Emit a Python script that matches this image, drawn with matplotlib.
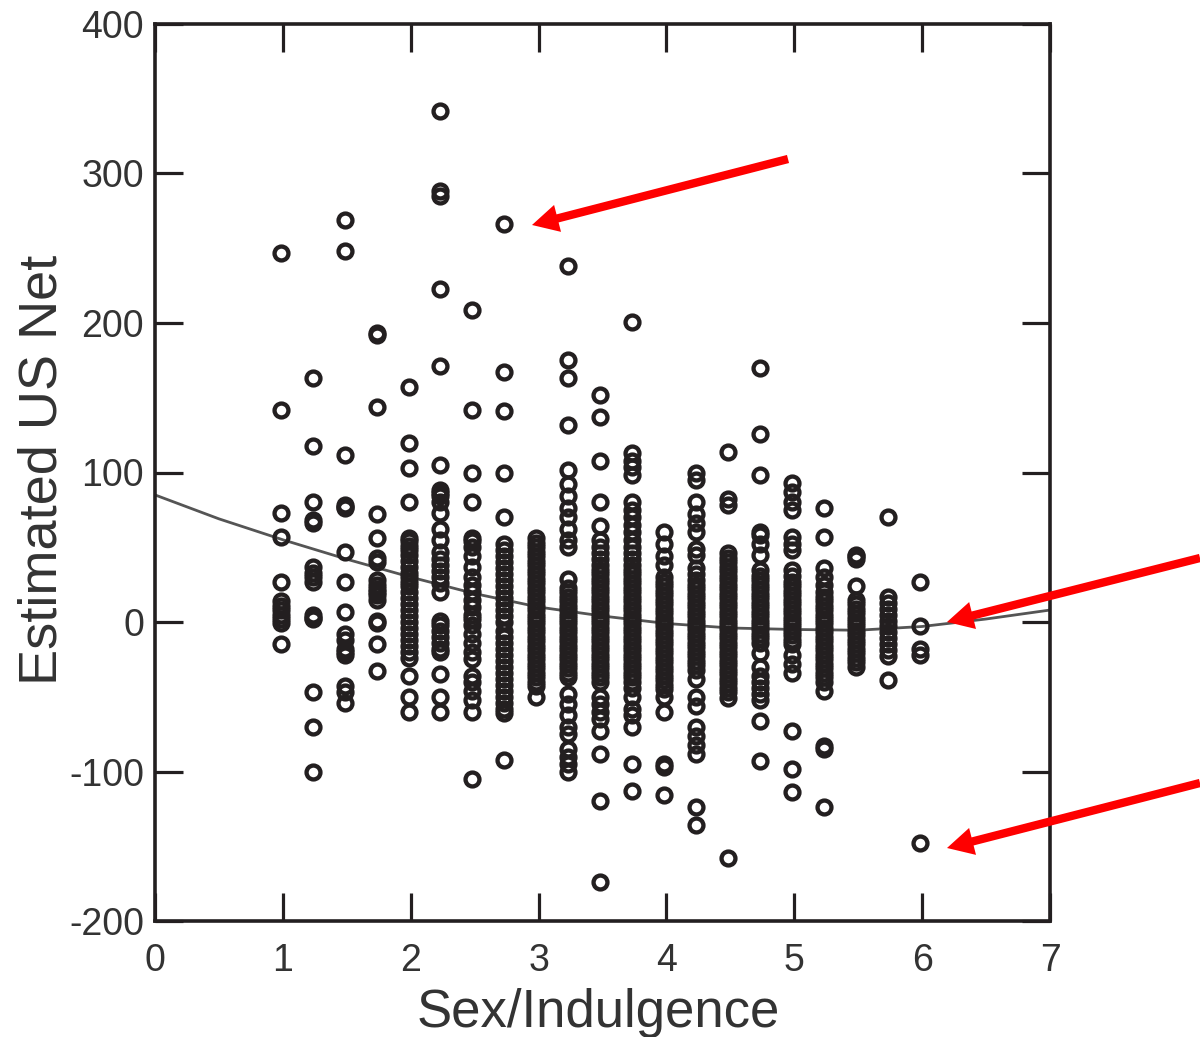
import matplotlib
matplotlib.use("Agg")
import matplotlib.pyplot as plt
from matplotlib.transforms import ScaledTranslation

W, H = 1200, 1037
INK = "#231f20"

col_100 = [247,142,73,57,27,14,11,8,5,2,-1,-15]
col_125 = [163,118,80,68,66,37,33,30,27,5,3,2,-47,-70,-100]
col_150 = [269,248,112,78,77,76,47,27,7,-8,-12,-18,-20,-22,-43,-47,-54]
col_175 = [193,192,144,72,56,43,40,28,25,22,20,18,15,1,-1,-15,-33]
col_200 = [157,120,103,80,56,54,51,48,45,41,37,33,30,27,24,20,16,12,8,4,0,-4,-8,-12,-16,-20,-24,-36,-50,-60]
col_225 = [342,288,285,223,171,105,88,86,84,80,73,62,55,47,42,38,34,30,26,20,1,-2,-6,-10,-14,-18,-20,-35,-50,-60]
col_250 = [209,142,100,80,56,54,50,44,37,30,25,20,15,10,5,2,-2,-8,-14,-20,-25,-36,-40,-46,-52,-60,-105]
col_275 = [266,167,141,100,70,52,48,44,40,36,32,28,24,20,16,12,8,4,0,-6,-10,-14,-18,-22,-26,-30,-34,-38,-42,-46,-50,-54,-58,-61,-92]
col_300 = [56,53,50,47,44,41,38,35,32,29,26,23,20,17,14,11,8,5,2,-1,-4,-7,-10,-13,-16,-19,-22,-25,-28,-31,-34,-37,-40,-43,-50]
col_325 = [238,175,163,132,102,92,84,76,70,62,55,50,29,23,20,17,14,11,8,5,2,-1,-4,-7,-10,-13,-16,-19,-22,-25,-28,-31,-34,-37,-48,-55,-62,-70,-75,-85,-90,-95,-100]
col_350 = [152,137,108,80,64,55,50,46,42,38,35,32,29,26,23,20,17,14,11,8,5,2,-1,-4,-7,-10,-13,-16,-19,-22,-25,-28,-31,-34,-37,-40,-50,-55,-60,-65,-73,-88,-120,-174]
col_375 = [201,113,108,104,98,80,75,70,65,60,55,50,46,42,38,35,32,29,26,23,20,17,14,11,8,5,2,-1,-4,-7,-10,-13,-16,-19,-22,-25,-28,-31,-34,-37,-40,-44,-50,-58,-62,-70,-95,-113]
col_400 = [60,52,44,38,30,27,24,21,18,15,12,9,6,3,0,-3,-6,-9,-12,-15,-18,-21,-24,-27,-30,-33,-36,-39,-42,-45,-50,-60,-95,-97,-116]
col_425 = [100,95,80,72,66,60,49,45,36,32,28,25,22,19,16,13,10,7,4,1,-2,-5,-8,-11,-14,-17,-20,-23,-26,-29,-32,-38,-50,-56,-70,-76,-82,-88,-124,-136]
col_450 = [114,82,78,46,43,40,37,34,31,28,25,22,19,16,13,10,7,4,1,-2,-5,-8,-11,-14,-17,-20,-23,-26,-29,-32,-35,-38,-41,-44,-47,-51,-158]
col_475 = [170,126,98,60,58,52,45,35,31,28,25,22,19,16,13,10,7,4,1,-2,-5,-8,-11,-14,-21,-30,-36,-40,-44,-48,-52,-66,-93]
col_500 = [93,87,80,75,57,52,48,35,31,27,24,21,18,15,12,9,6,3,0,-3,-6,-9,-12,-15,-22,-28,-34,-73,-98,-114]
col_525 = [76,57,36,30,25,20,17,14,11,8,5,2,-1,-4,-7,-10,-13,-16,-19,-22,-25,-28,-31,-34,-37,-40,-46,-83,-85,-124]
col_550 = [45,44,42,24,15,12,9,6,3,0,-3,-6,-9,-12,-15,-18,-21,-24,-27,-30]
col_575 = [70,17,13,9,5,1,-3,-7,-11,-15,-19,-23,-39]
col_600 = [27,-3,-18,-22,-148]

columns = {1.0: col_100, 1.25: col_125, 1.5: col_150, 1.75: col_175, 2.0: col_200,
           2.25: col_225, 2.5: col_250, 2.75: col_275, 3.0: col_300, 3.25: col_325,
           3.5: col_350, 3.75: col_375, 4.0: col_400, 4.25: col_425, 4.5: col_450,
           4.75: col_475, 5.0: col_500, 5.25: col_525, 5.5: col_550, 5.75: col_575,
           6.0: col_600}

curve_x = [0,0.5,1,1.5,2,2.5,3,3.5,4,4.5,5,5.5,6,6.5,7]
curve_y = [85,69,55,42,30,19,10,4,-1,-4,-5,-5.5,-3,2,8]

x_ticks = [0,1,2,3,4,5,6,7]
y_ticks = [-200,-100,0,100,200,300,400]
x_label = "Sex/Indulgence"
y_label = "Estimated US Net"

# arrows in figure pixels (tail, head), y measured from the top
arrows = [((788,159),(532,225)), ((1200,558),(947,622)), ((1200,783),(947,848))]

plt.rcParams["font.family"] = ["Liberation Sans", "DejaVu Sans"]
plt.rcParams["axes.unicode_minus"] = False
fig = plt.figure(figsize=(W/100, H/100), dpi=100)
ax = fig.add_axes([155/W, 1-921/H, (1050-155)/W, (921-24)/H])

# the scanned marks sit about 2 px left of the tick marks
shift = ax.transData + ScaledTranslation(-2.2/100, 0, fig.dpi_scale_trans)
for x, ys in columns.items():
    ax.plot([x]*len(ys), ys, ls="none", marker="o", ms=10, mfc="none",
            mec=INK, mew=3.1, zorder=3, transform=shift)
ax.plot(curve_x, curve_y, color="#555555", lw=2, zorder=2)

ax.set_xlim(0, 7)
ax.set_ylim(-200, 400)
ax.set_xticks(x_ticks)
ax.set_yticks(y_ticks)
ax.tick_params(which="major", direction="in", length=20, width=2.3, color=INK,
               top=True, right=True, labelsize=27, labelcolor="#333333")
ax.tick_params(axis="x", pad=16)
ax.tick_params(axis="y", pad=8)
for s in ax.spines.values():
    s.set_linewidth(2.6)
    s.set_color(INK)
ax.set_xlabel(x_label, fontsize=38, color="#333333", labelpad=6, x=0.4955)
ax.set_ylabel(y_label, fontsize=39, color="#333333", labelpad=1, y=0.5025)

for tail, head in arrows:
    ax.annotate("", xy=(head[0]/W, 1-head[1]/H), xytext=(tail[0]/W, 1-tail[1]/H),
                xycoords="figure fraction", textcoords="figure fraction",
                annotation_clip=False, zorder=5,
                arrowprops=dict(arrowstyle="simple,head_length=1.9,head_width=2.0,tail_width=0.6",
                                mutation_scale=10, color="#fe0000", lw=0,
                                shrinkA=0, shrinkB=0))

fig.savefig("out.png", dpi=100)
